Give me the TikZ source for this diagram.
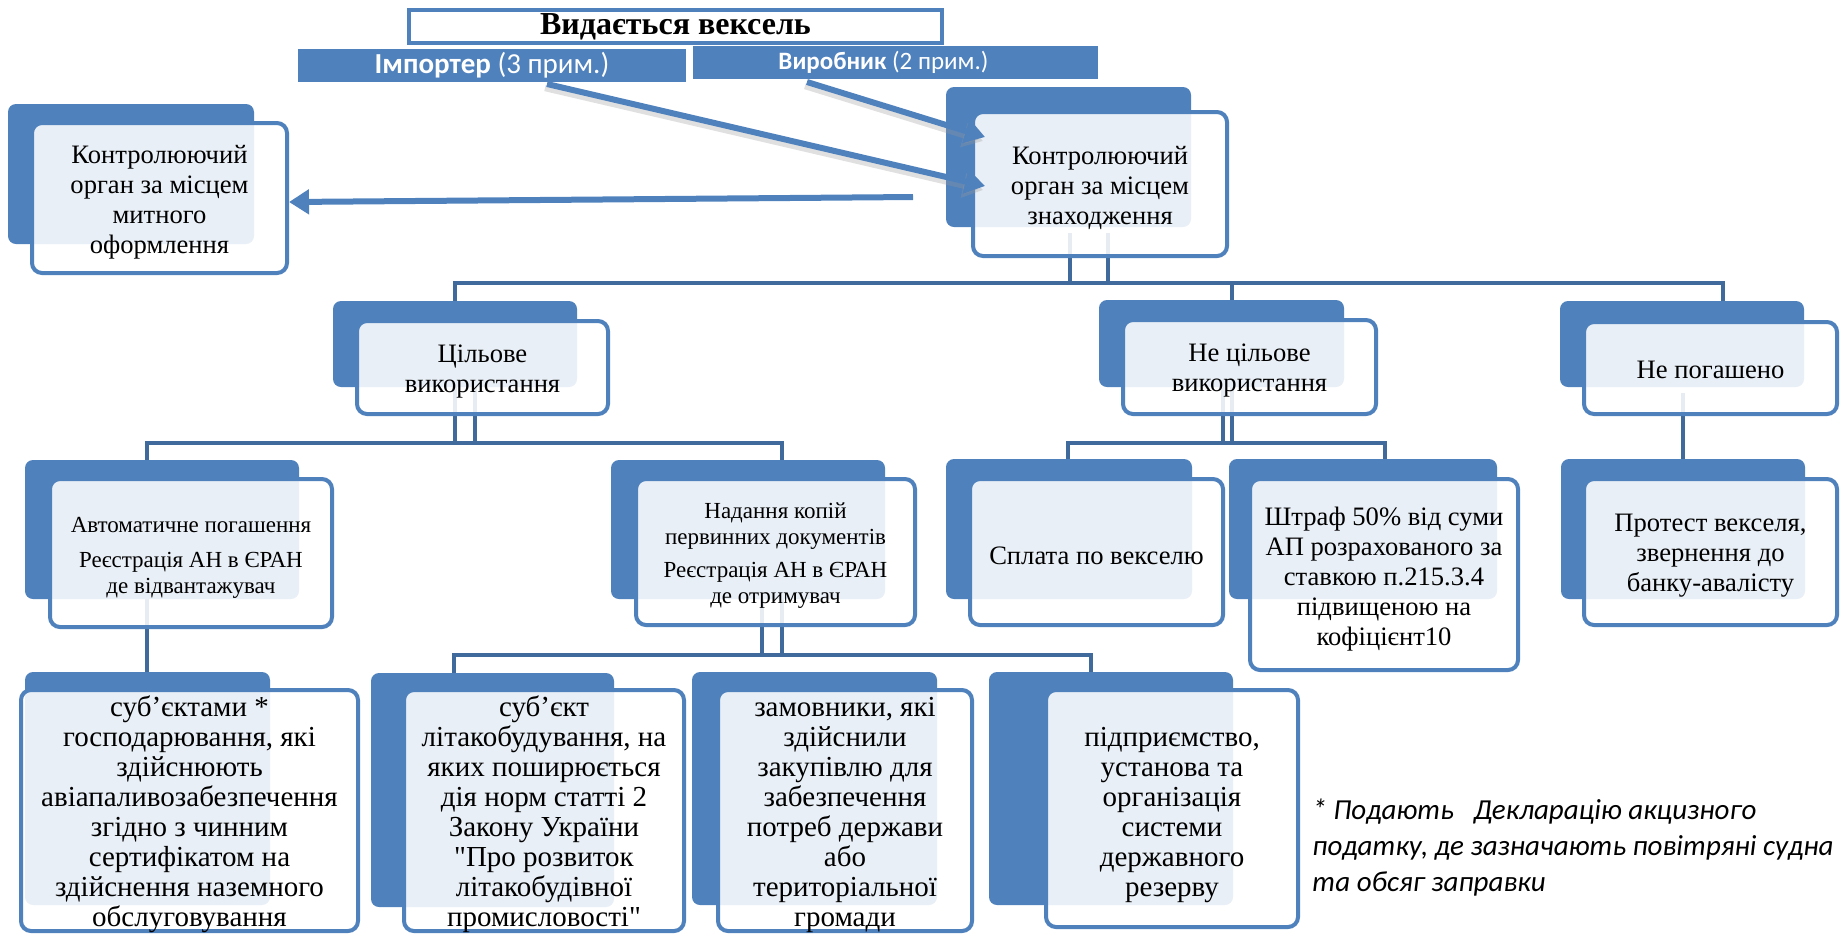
\documentclass[tikz,border=0pt]{standalone}
\usepackage{fontspec}
\setmainfont{Liberation Serif}[Ligatures=TeXOff]
\newfontfamily\calib{Carlito}
\usetikzlibrary{arrows.meta}
\definecolor{bb}{HTML}{4F81BD}
\definecolor{cc}{HTML}{40699C}
\tikzset{
  backbox/.style={fill=bb, rounded corners=4pt},
  frontbox/.style={draw=bb, line width=2pt, fill=white, fill opacity=0.88,
    rounded corners=5pt, inner sep=0pt},
  txt/.style={align=center, inner sep=0pt, text=black},
  conn/.style={draw=cc, line width=2.1pt},
  bigarrow/.style={draw=bb, line width=3pt, -{Triangle[length=10pt,width=12pt]}},
  shadowarrow/.style={draw=black!40, opacity=0.3, line width=3.2pt, -{Triangle[length=10pt,width=12pt]}},
  bar/.style={fill=bb, inner sep=0pt, text=white, align=center},
  fA/.style={font=\fontsize{13.3}{15}\selectfont},
  fB/.style={font=\fontsize{11.5}{13}\selectfont},
  fC/.style={font=\fontsize{14.5}{15}\selectfont},
}
% plain node spanning (x1,y1)-(x2,y2) in picture units
\newcommand\plainbox[7]{\node[#6, minimum width={(#4-#2)*0.5pt}, minimum height={(#5-#3)*0.5pt}] (#1) at ({(#2+#4)/2},{(#3+#5)/2}) {#7};}
% front box with its text node (optional arg: downward text offset)
\newcommand\frbox[8][4]{%
  \node[frontbox, minimum width={(#5-#3)*0.5pt}, minimum height={(#6-#4)*0.5pt}] (#2) at ({(#3+#5)/2},{(#4+#6)/2}) {};
  \node[txt, #7] (#2-text) at ({(#3+#5)/2},{(#4+#6)/2+#1}) {#8};}
\begin{document}
\begin{tikzpicture}[x=0.5pt,y=-0.5pt]
\useasboundingbox (0,0) rectangle (1841,934);

% ---------- title and bars ----------
\plainbox{title}{409}{10}{942}{43}{draw=bb, line width=2pt, fill=white, inner sep=0pt, font=\bfseries\fontsize{16}{18}\selectfont}{Видається вексель}
\plainbox{imp}{298}{49}{686}{82}{bar, font=\calib\fontsize{14.5}{16}\selectfont}{\textbf{Імпортер} (3 прим.)}
\plainbox{vyr}{693}{46}{1098}{79}{bar, font=\calib\fontsize{12.5}{14}\selectfont}{\hspace*{-12pt}\textbf{Виробник} (2 прим.)}

% ---------- connectors ----------
\coordinate (j0a) at (1070,233); \coordinate (j0b) at (1108,233);
\coordinate (h0l) at (455,283); \coordinate (h0r) at (1723,283);
\draw[conn] (j0a) -- (j0a |- h0l);
\draw[conn] (j0b) -- (j0b |- h0l);
\draw[conn] (455,301) -- (h0l) -- (h0r) -- (1723,301);
\draw[conn] (1232,283) -- (1232,300);

\coordinate (h1l) at (147,443); \coordinate (h1r) at (782,443);
\draw[conn] (455,387) -- (455,443);
\draw[conn] (475,387) -- (475,443);
\draw[conn] (147,460) -- (h1l) -- (h1r) -- (782,460);

\coordinate (h2l) at (1068,443); \coordinate (h2r) at (1385,443);
\draw[conn] (1223,387) -- (1223,443);
\draw[conn] (1232,387) -- (1232,443);
\draw[conn] (1068,459) -- (h2l) -- (h2r) -- (1385,459);

\draw[conn] (1683,393) -- (1683,459);

\draw[conn] (147,599) -- (147,672);

\coordinate (h3l) at (454,655); \coordinate (h3r) at (1091,655);
\draw[conn] (762,599) -- (762,655);
\draw[conn] (782,599) -- (782,655);
\draw[conn] (454,673) -- (h3l) -- (h3r) -- (1091,673);

% ---------- back boxes ----------
\fill[backbox] (8,104) rectangle (254,244);
\fill[backbox] (946,87) rectangle (1191,227);
\fill[backbox] (333,301) rectangle (577,387);
\fill[backbox] (1099,300) rectangle (1344,387);
\fill[backbox] (1560,301) rectangle (1804,387);
\fill[backbox] (25,460) rectangle (299,599);
\fill[backbox] (611,460) rectangle (885,599);
\fill[backbox] (946,459) rectangle (1192,599);
\fill[backbox] (1229,459) rectangle (1497,599);
\fill[backbox] (1561,459) rectangle (1805,599);
\fill[backbox] (25,672) rectangle (270,905);
\fill[backbox] (371,673) rectangle (614,907);
\fill[backbox] (692,672) rectangle (937,905);
\fill[backbox] (989,672) rectangle (1233,905);

% ---------- front boxes ----------
\frbox{customs}{32}{123}{287}{273}{fA}{Контролюючий\\орган за місцем\\митного\\оформлення}
\frbox{location}{973}{112}{1227}{256}{fA}{Контролюючий\\орган за місцем\\знаходження}
\frbox{target}{357}{321}{608}{414}{fA}{Цільове\\використання}
\frbox{nontarget}{1123}{320}{1376}{414}{fA}{Не цільове\\використання}
\frbox[1.5]{unpaid}{1584}{322}{1837}{414}{fA}{Не погашено}
\frbox[5]{auto}{50}{479}{332}{627}{fB}{Автоматичне погашення\\[4.5pt]Реєстрація АН в ЄРАН\\де відвантажувач}
\frbox{copies}{636}{479}{915}{625}{fB}{Надання копій\\первинних документів\\[3.5pt]Реєстрація АН в ЄРАН\\де отримувач}
\frbox{pay}{970}{479}{1223}{625}{fA}{Сплата по векселю}
\frbox[5]{fine}{1250}{479}{1518}{670}{fA}{Штраф 50\% від суми\\АП розрахованого за\\ставкою п.215.3.4\\підвищеною на\\кофіцієнт10}
\frbox{protest}{1584}{479}{1837}{625}{fA}{Протест векселя,\\звернення до\\банку-авалісту}
\frbox{subj}{21}{690}{358}{931}{fC}{суб’єктами *\\господарювання, які\\здійснюють\\авіапаливозабезпечення\\згідно з чинним\\сертифікатом на\\здійснення наземного\\обслуговування}
\frbox{aircraft}{404}{690}{684}{931}{fC}{суб’єкт\\літакобудування, на\\яких поширюється\\дія норм статті 2\\Закону України\\"Про розвиток\\літакобудівної\\промисловості"}
\frbox{customers}{718}{690}{972}{931}{fC}{замовники, які\\здійснили\\закупівлю для\\забезпечення\\потреб держави\\або\\територіальної\\громади}
\frbox[7]{reserve}{1046}{690}{1298}{927}{fC}{підприємство,\\установа та\\організація\\системи\\державного\\резерву}

% ---------- arrows ----------
\coordinate (a1s) at (547,84);  \coordinate (a1e) at (985,186);
\coordinate (a2s) at (807,82);  \coordinate (a2e) at (985,137);
\coordinate (a3s) at (913,197); \coordinate (a3e) at (289,202);
\draw[shadowarrow] ([shift={(-2,4)}]a1s) -- ([shift={(-2,4)}]a1e);
\draw[shadowarrow] ([shift={(-2,4)}]a2s) -- ([shift={(-2,4)}]a2e);
\draw[bigarrow] (a1s) -- (a1e);
\draw[bigarrow] (a2s) -- (a2e);
\draw[bigarrow] (a3s) -- (a3e);

% ---------- footnote ----------
\node[anchor=north west, align=left, inner sep=0pt, font=\calib\itshape\fontsize{14.5}{17.8}\selectfont] (note) at (1312,799)
  {* Подають\ \ \ Декларацію акцизного\\податку, де зазначають повітряні судна\\та обсяг заправки};
\end{tikzpicture}
\end{document}
